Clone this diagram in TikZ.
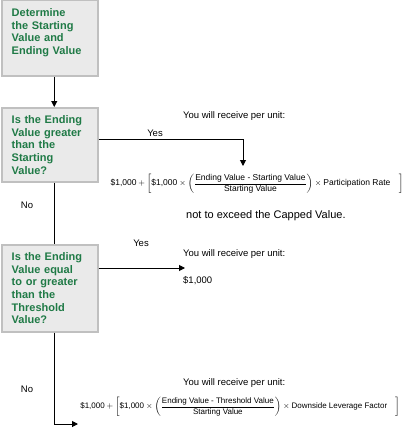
\documentclass[tikz,border=0pt]{standalone}
\usepackage{amsmath}
\usepackage{fontspec}
\setmainfont{Liberation Sans}
\usetikzlibrary{positioning,arrows.meta}
\definecolor{qgreen}{RGB}{31,122,70}
\definecolor{boxfill}{RGB}{234,234,234}
\definecolor{boxline}{RGB}{192,192,192}

\begin{document}
\begin{tikzpicture}[x=1pt,y=-1pt,
    question/.style={draw=boxline, line width=1.5pt, fill=boxfill, text=qgreen,
        font=\bfseries\fontsize{11}{12.6}\selectfont, align=left, text width=76pt,
        inner xsep=10pt, inner ysep=8pt, anchor=north west},
    plain/.style={font=\fontsize{9.5}{11}\selectfont, anchor=base west, inner sep=0pt},
    answer/.style={font=\fontsize{9.5}{11}\selectfont, anchor=base, inner sep=0pt},
    formula/.style={font=\fontsize{8}{9.5}\selectfont, inner sep=0pt},
    flow/.style={line width=1pt, -{Triangle[length=6pt,width=6pt]}}]
    \useasboundingbox (0,0) rectangle (410,428);

    \node[question] (det) at (1,0) {Determine\\the Starting\\Value and\\Ending Value\\[1pt]\mbox{}};
    \node[question] (startq) at (1,107) {Is the Ending\\Value greater\\than the\\Starting\\Value?};
    \node[question] (threshq) at (1,244) {Is the Ending\\Value equal\\to or greater\\than the\\Threshold\\Value?};

    \coordinate (capres) at (243,166);
    \coordinate (parres) at (185,268);
    \coordinate (lowres) at (78,424);

    \node[plain] (recv1) at (183,118) {You will receive per unit:};
    \node[answer] (yes1) at (155,136) {Yes};
    \node[formula, font=\fontsize{8.5}{10}\selectfont] (capf) at (257,184) {$\text{\$1,000}+\left[\text{\$1,000}\times\left(\dfrac{\text{Ending Value - Starting Value}}{\text{Starting Value}}\right)\times\text{Participation Rate}\quad\right]$};
    \node[plain, font=\fontsize{11}{13}\selectfont] (capnote) at (186,218) {not to exceed the Capped Value.};
    \node[answer] (no1) at (27,208) {No};

    \node[answer] (yes2) at (141,246) {Yes};
    \node[plain] (recv2) at (183,256) {You will receive per unit:};
    \node[plain] (parf) at (183,283) {\$1,000};

    \node[answer] (no2) at (27,392) {No};
    \node[plain] (recv3) at (183,385) {You will receive per unit:};
    \node[formula] (lowf) at (240,407) {$\text{\$1,000}+\left[\text{\$1,000}\times\left(\dfrac{\text{Ending Value - Threshold Value}}{\text{Starting Value}}\right)\times\text{Downside Leverage Factor}\quad\right]$};

    \draw[flow] ([xshift=4.5pt]det.south) -- ([xshift=4.5pt]startq.north);
    \draw[line width=1pt] ([xshift=4.5pt]startq.south) -- ([xshift=4.5pt]threshq.north);
    \draw[flow] ([yshift=5.5pt]startq.east) -| (capres);
    \draw[flow] (threshq.east |- parres) -- (parres);
    \draw[flow] ([xshift=4.5pt]threshq.south) |- (lowres);
\end{tikzpicture}
\end{document}
